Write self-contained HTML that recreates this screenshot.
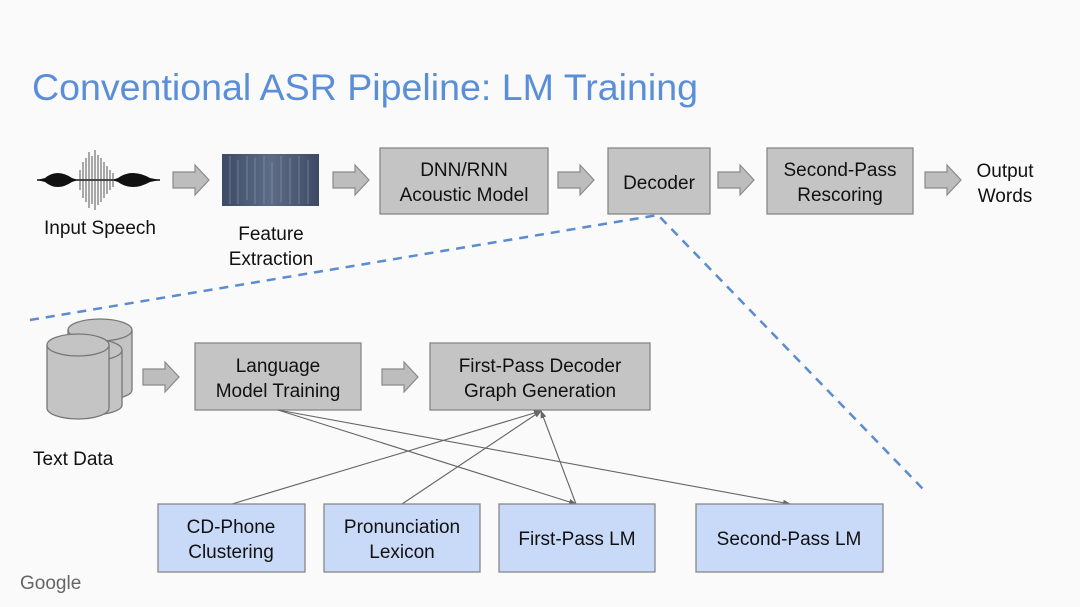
<!DOCTYPE html>
<html><head><meta charset="utf-8"><style>
html,body{margin:0;padding:0;background:#fafafa;}
svg{display:block;font-family:"Liberation Sans",sans-serif;}
</style></head><body>
<svg width="1080" height="607" viewBox="0 0 1080 607" xmlns="http://www.w3.org/2000/svg">
<defs>
<g id="ba"><path d="M0,-8 H22 V-15 L36,0 L22,15 V8 H0 Z" fill="#bdbdbd" stroke="#8a8a8a" stroke-width="1.2"/></g>
<marker id="ah" markerWidth="8" markerHeight="8" refX="7" refY="4" orient="auto" markerUnits="userSpaceOnUse"><path d="M0,1 L8,4 L0,7 Z" fill="#666"/></marker>
<linearGradient id="sg" x1="0" x2="1"><stop offset="0" stop-color="#3d4b66"/><stop offset="0.5" stop-color="#5d6c86"/><stop offset="1" stop-color="#3e4a63"/></linearGradient>
</defs>
<rect width="1080" height="607" fill="#fafafa"/>
<text x="32" y="100" font-size="37" fill="#5a8fd8" textLength="666" lengthAdjust="spacingAndGlyphs">Conventional ASR Pipeline: LM Training</text>

<!-- waveform -->
<g fill="#111">
<path d="M37,180 L45,178 Q57,168 72,178 L78,180 L72,182 Q57,192 45,182 Z"/>
<path d="M112,180 L118,178 Q132,168 150,178 L160,180 L150,182 Q132,192 118,182 Z"/>
</g>
<line x1="37" y1="180" x2="160" y2="180" stroke="#111" stroke-width="1.5"/>
<g stroke="#444" stroke-width="0.9">
<path d="M80,170 V190 M83,162 V198 M86,158 V202 M89,152 V208 M92,156 V204 M95,150 V210 M98,155 V205 M101,158 V202 M104,162 V198 M107,166 V194 M110,170 V190 M113,173 V187"/>
</g>
<!-- spectrogram -->
<rect x="222" y="154" width="97" height="52" fill="url(#sg)"/>
<g stroke="#8e9ab0" stroke-width="1" opacity="0.6">
<path d="M230,156 V204 M238,160 V204 M247,156 V200 M255,158 V204 M264,156 V204 M272,162 V204 M281,156 V202 M290,158 V204 M299,156 V204 M308,160 V204"/>
</g>
<text x="100" y="234" font-size="19" text-anchor="middle" fill="#111">Input Speech</text>
<text x="271" y="240" font-size="19" text-anchor="middle" fill="#111">Feature</text>
<text x="271" y="265" font-size="19" text-anchor="middle" fill="#111">Extraction</text>

<use href="#ba" x="173" y="180"/>
<use href="#ba" x="333" y="180"/>
<use href="#ba" x="558" y="180"/>
<use href="#ba" x="718" y="180"/>
<use href="#ba" x="925" y="180"/>
<use href="#ba" x="143" y="377"/>
<use href="#ba" x="382" y="377"/>

<g fill="#c4c4c4" stroke="#888" stroke-width="1.3">
<rect x="380" y="148" width="168" height="66"/>
<rect x="608" y="148" width="102" height="66"/>
<rect x="767" y="148" width="146" height="66"/>
<rect x="195" y="343" width="166" height="67"/>
<rect x="430" y="343" width="220" height="67"/>
</g>
<g font-size="19" text-anchor="middle" fill="#111">
<text x="464" y="176">DNN/RNN</text><text x="464" y="201">Acoustic Model</text>
<text x="659" y="189">Decoder</text>
<text x="840" y="176">Second-Pass</text><text x="840" y="201">Rescoring</text>
<text x="1005" y="177">Output</text><text x="1005" y="202">Words</text>
<text x="278" y="372">Language</text><text x="278" y="397">Model Training</text>
<text x="540" y="372">First-Pass Decoder</text><text x="540" y="397">Graph Generation</text>
<text x="33" y="465" text-anchor="start">Text Data</text>
</g>

<!-- dashed -->
<path d="M30,320 L658,215 L923,489" fill="none" stroke="#5b8bd0" stroke-width="2.5" stroke-dasharray="9,7"/>

<!-- cylinders -->
<g fill="#c4c4c4" stroke="#777" stroke-width="1.3">
<path d="M68,330 V390 A32,10 0 0 0 132,390 V330"/><ellipse cx="100" cy="330" rx="32" ry="11"/>
<path d="M58,350 V405 A32,10 0 0 0 122,405 V350"/><ellipse cx="90" cy="350" rx="32" ry="11"/>
<path d="M47,345 V408 A31,11 0 0 0 109,408 V345"/><ellipse cx="78" cy="345" rx="31" ry="11"/>
</g>

<!-- connectors -->
<g stroke="#666" stroke-width="1.1" fill="none">
<line x1="278" y1="410" x2="576" y2="504" marker-end="url(#ah)"/>
<line x1="278" y1="410" x2="790" y2="504" marker-end="url(#ah)"/>
<line x1="232" y1="504" x2="541" y2="411" marker-end="url(#ah)"/>
<line x1="402" y1="504" x2="541" y2="411" marker-end="url(#ah)"/>
<line x1="576" y1="504" x2="541" y2="411" marker-end="url(#ah)"/>
</g>

<g fill="#c9daf8" stroke="#888" stroke-width="1.3">
<rect x="158" y="504" width="147" height="68"/>
<rect x="324" y="504" width="156" height="68"/>
<rect x="499" y="504" width="156" height="68"/>
<rect x="696" y="504" width="187" height="68"/>
</g>
<g font-size="19" text-anchor="middle" fill="#111">
<text x="231" y="533">CD-Phone</text><text x="231" y="558">Clustering</text>
<text x="402" y="533">Pronunciation</text><text x="402" y="558">Lexicon</text>
<text x="577" y="545">First-Pass LM</text>
<text x="789" y="545">Second-Pass LM</text>
</g>
<text x="20" y="589" font-size="19" fill="#666">Google</text>
</svg>
</body></html>
